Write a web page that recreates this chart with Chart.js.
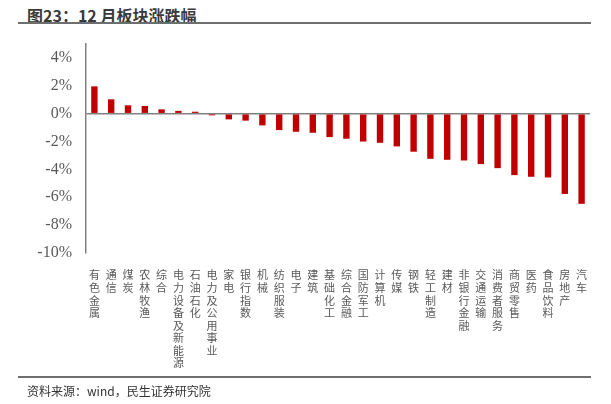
<!DOCTYPE html>
<html>
<head>
<meta charset="utf-8">
<script src="https://cdn.jsdelivr.net/npm/chart.js@4"></script>
<style>
  html, body { margin: 0; padding: 0; background: #fff; }
  #wrap { position: relative; width: 611px; height: 404px; overflow: hidden; }
  #title { position: absolute; left: 27px; top: 3px; font: bold 16px "Noto Sans CJK SC", sans-serif; color: #3a3a3a; }
  .rule { position: absolute; left: 18px; width: 573px; height: 2px; background: #6e6e6e; }
  #source { position: absolute; left: 27px; top: 382px; font: 12px "Noto Sans CJK SC", sans-serif; color: #333; }
  canvas { position: absolute; left: 0; top: 0; }
</style>
</head>
<body>
<div id="wrap">
  <div id="title">图23：12 月板块涨跌幅</div>
  <div class="rule" style="top:22px"></div>
  <canvas id="c" width="611" height="404"></canvas>
  <div class="rule" style="top:376px"></div>
  <div id="source">资料来源：wind，民生证券研究院</div>
</div>
<script>
// 板块名称
const sectors = ['有色金属', '通信', '煤炭', '农林牧渔', '综合', '电力设备及新能源', '石油石化', '电力及公用事业',
  '家电', '银行指数', '机械', '纺织服装', '电子', '建筑', '基础化工', '综合金融', '国防军工', '计算机', '传媒',
  '钢铁', '轻工制造', '建材', '非银行金融', '交通运输', '消费者服务', '商贸零售', '医药', '食品饮料', '房地产', '汽车'];

// 12月涨跌幅 (%)
const changes = [1.96, 1.03, 0.60, 0.55, 0.31, 0.20, 0.14, -0.12, -0.41, -0.50, -0.84, -1.18, -1.30, -1.37,
  -1.68, -1.80, -2.00, -2.09, -2.35, -2.73, -3.24, -3.31, -3.36, -3.62, -3.91, -4.41, -4.53, -4.58, -5.76, -6.47];

const yTicks = [-10, -8, -6, -4, -2, 0, 2, 4];

// vertical labels: one character per line
const labels = sectors.map(s => s.split(''));

new Chart(document.getElementById('c'), {
  type: 'bar',
  data: {
    labels: labels,
    datasets: [{
      data: changes,
      backgroundColor: '#c00000',
      barPercentage: 0.38,
      categoryPercentage: 1
    }]
  },
  options: {
    responsive: false,
    animation: false,
    layout: { padding: { top: 44, right: 21, left: 0, bottom: 0 } },
    plugins: { legend: { display: false }, tooltip: { enabled: false } },
    scales: {
      x: {
        grid: { display: false },
        border: { display: false },
        ticks: {
          autoSkip: false,
          maxRotation: 0,
          minRotation: 0,
          padding: 8,
          color: '#595959',
          font: { family: '"Noto Sans CJK SC"', size: 11, lineHeight: 1.14 }
        },
        afterFit: s => { s.height = 151; }
      },
      y: {
        min: -10,
        max: 5,
        afterBuildTicks: s => { s.ticks = yTicks.map(v => ({ value: v })); },
        afterFit: s => { s.width = 86; },
        grid: {
          drawTicks: false,
          lineWidth: 1.5,
          color: c => (c.tick && c.tick.value === 0) ? '#808080' : 'rgba(0,0,0,0)'
        },
        border: { display: true, color: '#808080', width: 1.5 },
        ticks: {
          padding: 14,
          color: '#595959',
          font: { family: '"Liberation Serif", serif', size: 16 },
          callback: v => v + '%'
        }
      }
    }
  }
});
</script>
</body>
</html>
